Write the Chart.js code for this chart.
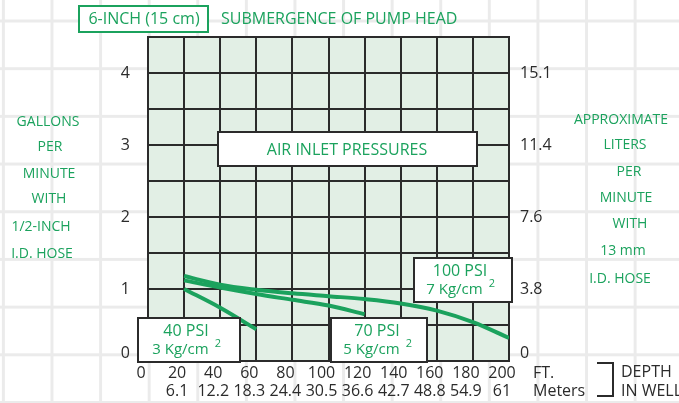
<!DOCTYPE html>
<html>
<head>
<meta charset="utf-8">
<script src="https://cdn.jsdelivr.net/npm/chart.js@4"></script>
<style>
  html, body { margin: 0; padding: 0; }
  body {
    width: 679px; height: 403px; overflow: hidden;
    background-color: #fff;
    background-image:
      linear-gradient(to right, #ebebeb 3px, transparent 3px),
      linear-gradient(to bottom, #ebebeb 3px, transparent 3px);
    background-size: 48.6px 47.7px;
    background-position: 50.5px 19.5px;
  }
  canvas { display: block; }
</style>
</head>
<body>
<canvas id="pumpChart" width="679" height="403"></canvas>
<script>
const FONT = "'Open Sans', 'Noto Sans', sans-serif";
const GREEN = "#1ba25d";
const INK = "#2b2b2b";

// depth in well (ft) and matching meters
const depthFt = [0, 20, 40, 60, 80, 100, 120, 140, 160, 180, 200];
const depthM = ["", "6.1", "12.2", "18.3", "24.4", "30.5", "36.6", "42.7", "48.8", "54.9", "61"];

// flow ticks: gallons per minute (left) and liters per minute (right)
const gpmTicks = [0, 1, 2, 3, 4];
const lpmTicks = ["0", "3.8", "7.6", "11.4", "15.1"];

// air inlet pressure curves
const psi40Ft = [20, 40, 60];
const psi40Gpm = [1.0, 0.74, 0.44];
const psi70Ft = [20, 40, 60, 80, 100, 120];
const psi70Gpm = [1.12, 1.02, 0.93, 0.85, 0.77, 0.65];
const psi100Ft = [20, 40, 60, 80, 100, 120, 140, 160, 180, 200];
const psi100Gpm = [1.18, 1.06, 0.99, 0.94, 0.90, 0.86, 0.80, 0.70, 0.54, 0.32];

function pts(xs, ys) {
  return xs.map((x, i) => ({ x: x, y: ys[i] }));
}

function curve(label, xs, ys) {
  return {
    label: label,
    data: pts(xs, ys),
    borderColor: GREEN,
    borderWidth: 4,
    pointRadius: 0,
    fill: false,
    tension: 0.35,
    yAxisID: "y"
  };
}

function flowLabel(list) {
  return function (v) {
    if (!Number.isInteger(v)) return "";
    const i = gpmTicks.indexOf(v);
    if (i < 0) return "";
    return v === 0 ? [list[i], ""] : String(list[i]);
  };
}

// light green plot background
const plotFill = {
  id: "plotFill",
  beforeDraw(chart) {
    const a = chart.chartArea, ctx = chart.ctx;
    ctx.save();
    ctx.fillStyle = "#e2efe5";
    ctx.fillRect(a.left, a.top, a.right - a.left, a.bottom - a.top);
    ctx.restore();
  }
};

function txt(ctx, s, x, y, color, size, align) {
  ctx.font = size + "px " + FONT;
  ctx.fillStyle = color;
  ctx.textAlign = align || "center";
  ctx.textBaseline = "middle";
  ctx.fillText(s, x, y);
}

function box(ctx, x1, y1, x2, y2, stroke) {
  ctx.fillStyle = "#fff";
  ctx.fillRect(x1, y1, x2 - x1, y2 - y1);
  ctx.strokeStyle = stroke;
  ctx.lineWidth = 2;
  ctx.strokeRect(x1, y1, x2 - x1, y2 - y1);
}

function psiBox(ctx, x1, y1, x2, y2, top, bottom, cx) {
  box(ctx, x1, y1, x2, y2, INK);
  txt(ctx, top, cx, y1 + 13, GREEN, 16);
  ctx.font = "15px " + FONT;
  const w = ctx.measureText(bottom).width;
  const sx = cx - (w + 11) / 2;
  txt(ctx, bottom, sx, y1 + 32, GREEN, 15, "left");
  txt(ctx, "2", sx + w + 6, y1 + 26, GREEN, 11, "left");
}

// boxes and labels drawn on top
const notes = {
  id: "notes",
  afterDraw(chart) {
    const ctx = chart.ctx;
    ctx.save();
    box(ctx, 79, 6, 208, 32, GREEN);
    txt(ctx, "6-INCH (15 cm)", 144, 19, GREEN, 16);
    txt(ctx, "SUBMERGENCE OF PUMP HEAD", 221, 19, GREEN, 16, "left");

    box(ctx, 218, 132, 477, 166, INK);
    txt(ctx, "AIR INLET PRESSURES", 347, 150, GREEN, 16);

    psiBox(ctx, 138, 318, 240, 362, "40 PSI", "3 Kg/cm", 186);
    psiBox(ctx, 331, 318, 427, 362, "70 PSI", "5 Kg/cm", 377);
    psiBox(ctx, 414, 258, 512, 302, "100 PSI", "7 Kg/cm", 460);

    const left = [["GALLONS", 48, 122], ["PER", 50, 147], ["MINUTE", 49, 174],
                  ["WITH", 49, 199], ["1/2-INCH", 41, 227], ["I.D. HOSE", 42, 254]];
    left.forEach(t => txt(ctx, t[0], t[1], t[2], GREEN, 14));
    const right = [["APPROXIMATE", 621, 120], ["LITERS", 625, 145], ["PER", 629, 172],
                   ["MINUTE", 626, 198], ["WITH", 630, 224], ["13 mm", 623, 251],
                   ["I.D. HOSE", 620, 279]];
    right.forEach(t => txt(ctx, t[0], t[1], t[2], GREEN, 14));

    txt(ctx, "FT.", 533, 373, INK, 16, "left");
    txt(ctx, "Meters", 533, 391, INK, 16, "left");
    ctx.strokeStyle = INK;
    ctx.lineWidth = 2;
    ctx.beginPath();
    ctx.moveTo(597, 363); ctx.lineTo(613, 363); ctx.lineTo(613, 396); ctx.lineTo(597, 396);
    ctx.stroke();
    txt(ctx, "DEPTH", 621, 372, INK, 16, "left");
    txt(ctx, "IN WELL", 621, 391, INK, 16, "left");
    ctx.restore();
  }
};

new Chart(document.getElementById("pumpChart"), {
  type: "line",
  data: {
    datasets: [
      curve("40 PSI", psi40Ft, psi40Gpm),
      curve("70 PSI", psi70Ft, psi70Gpm),
      curve("100 PSI", psi100Ft, psi100Gpm)
    ]
  },
  options: {
    responsive: false,
    animation: false,
    layout: { padding: { top: 37, left: 0, right: 0, bottom: 0 } },
    plugins: { legend: { display: false }, tooltip: { enabled: false } },
    scales: {
      x: {
        type: "linear",
        position: "bottom",
        min: 0, max: 200,
        afterBuildTicks: s => { s.ticks = depthFt.map(v => ({ value: v })); },
        afterFit: s => { s.height = 42; },
        grid: { color: INK, lineWidth: 2, drawTicks: false },
        border: { display: true, color: INK, width: 2 },
        ticks: {
          padding: 3,
          labelOffset: -7,
          maxRotation: 0,
          autoSkip: false,
          color: INK,
          font: { family: FONT, size: 16, lineHeight: 1.15 },
          callback: v => {
            const i = depthFt.indexOf(v);
            return v === 0 ? "0" : [String(v), depthM[i]];
          }
        }
      },
      y: {
        position: "left",
        min: 0, max: 4.5,
        afterFit: s => { s.width = 148; },
        grid: { color: INK, lineWidth: 2, drawTicks: false },
        border: { display: true, color: INK, width: 2 },
        ticks: {
          stepSize: 0.5,
          padding: 18,
          color: INK,
          font: { family: FONT, size: 16, lineHeight: 1.0 },
          callback: flowLabel(gpmTicks)
        }
      },
      y2: {
        position: "right",
        min: 0, max: 4.5,
        afterFit: s => { s.width = 170; },
        grid: { drawOnChartArea: false, drawTicks: false },
        border: { display: true, color: INK, width: 2 },
        ticks: {
          stepSize: 0.5,
          padding: 11,
          color: INK,
          font: { family: FONT, size: 16, lineHeight: 1.0 },
          callback: flowLabel(lpmTicks)
        }
      }
    }
  },
  plugins: [plotFill, notes]
});
</script>
</body>
</html>
